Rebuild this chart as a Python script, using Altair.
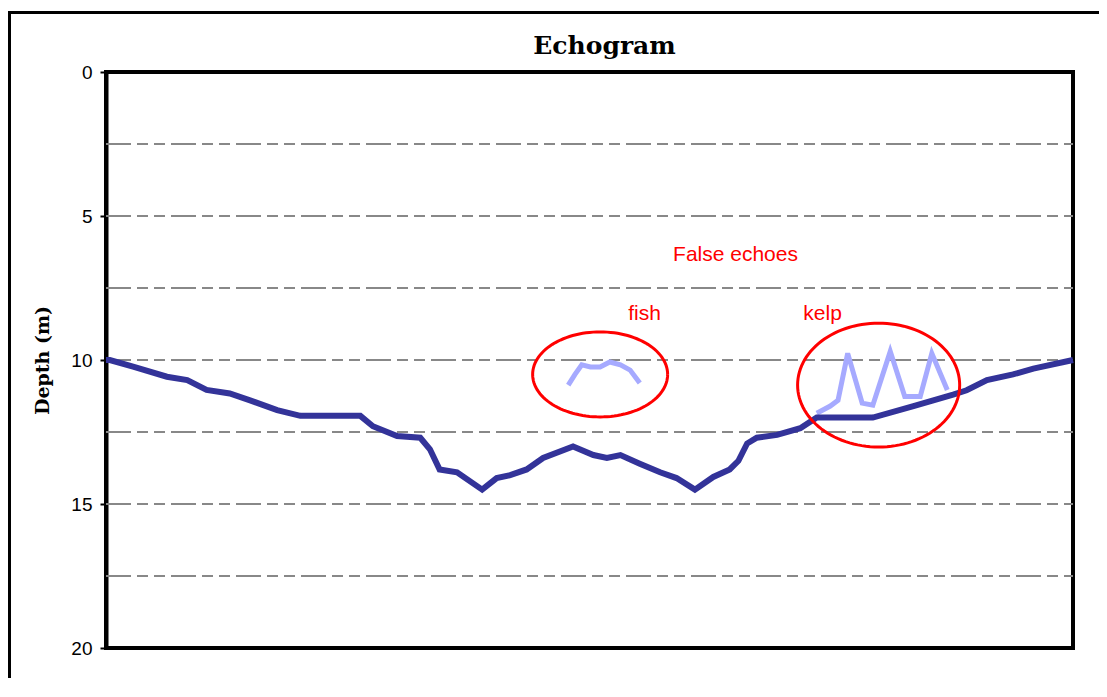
import altair as alt
import numpy as np
import pandas as pd

# ---- data ----
prof_x = [0, 0.4, 2.8, 6.3, 8.4, 10.4, 12.8, 14.9, 17.7, 20.1, 26.3, 27.6, 30.1, 32.5,
          33.5, 34.5, 36.3, 38.9, 40.4, 41.8, 43.5, 45.2, 48.3, 50.4, 51.8, 53.2, 55.2,
          57.3, 59.0, 60.9, 62.8, 64.5, 65.4, 66.3, 67.3, 69.4, 71.8, 73.5, 79.3, 83.5,
          87.6, 89.0, 91.1, 93.8, 95.9, 100]
prof_depth = [10.0, 10.0, 10.23, 10.58, 10.7, 11.04, 11.16, 11.4, 11.74, 11.94, 11.94, 12.3,
              12.64, 12.7, 13.1, 13.8, 13.9, 14.5, 14.1, 14.0, 13.8, 13.4, 13.0, 13.3, 13.4,
              13.3, 13.6, 13.9, 14.1, 14.5, 14.06, 13.8, 13.5, 12.9, 12.7, 12.6, 12.37, 12.0,
              12.0, 11.6, 11.2, 11.05, 10.7, 10.5, 10.3, 10.0]

fish_x = [47.8, 48.5, 49.2, 50.1, 51.1, 52.1, 53.2, 54.2, 55.2]
fish_depth = [10.87, 10.5, 10.17, 10.24, 10.24, 10.07, 10.17, 10.35, 10.8]

kelp_x = [73.5, 74.9, 75.7, 76.7, 78.2, 79.3, 81.1, 82.6, 84.2, 85.4, 87.0]
kelp_depth = [11.85, 11.6, 11.4, 9.77, 11.5, 11.57, 9.7, 11.27, 11.27, 9.77, 11.04]

grid_levels = [2.5, 5, 7.5, 10, 12.5, 15, 17.5]
depth_ticks = [0, 5, 10, 15, 20]

label_text = ["False echoes", "fish", "kelp"]
label_x = [65.1, 55.7, 74.1]
label_depth = [6.56, 8.61, 8.61]

ellipse_name = ["fish", "kelp"]
ellipse_cx = [51.1, 79.9]
ellipse_cdepth = [10.5, 10.87]
ellipse_rx = [6.98, 8.38]
ellipse_rdepth = [1.476, 2.15]

# ---- tables ----
prof_df = pd.DataFrame({"x": prof_x, "depth": prof_depth})
echo_df = pd.concat([
    pd.DataFrame({"x": fish_x, "depth": fish_depth, "s": "fish"}),
    pd.DataFrame({"x": kelp_x, "depth": kelp_depth, "s": "kelp"}),
])
grid_df = pd.DataFrame({"depth": grid_levels})
label_df = pd.DataFrame({"t": label_text, "x": label_x, "depth": label_depth})

t = np.linspace(0, 2 * np.pi, 121)
rows = []
for n, cx, cy, rx, ry in zip(ellipse_name, ellipse_cx, ellipse_cdepth, ellipse_rx, ellipse_rdepth):
    for i, a in enumerate(t):
        rows.append({"e": n, "i": i, "x": cx + rx * np.cos(a), "depth": cy + ry * np.sin(a)})
ell_df = pd.DataFrame(rows)

xscale = alt.Scale(domain=[0, 100], nice=False, zero=False)
yscale = alt.Scale(domain=[0, 20], reverse=True, nice=False, zero=False)

yaxis = alt.Axis(
    values=depth_ticks, grid=False,
    domainColor="black", domainWidth=4,
    tickColor="black", tickWidth=2, tickSize=6,
    labelFont="Liberation Sans", labelFontSize=19, labelColor="black", labelPadding=8,
    title="Depth (m)", titleFont="DejaVu Serif", titleFontWeight="bold", titleFontSize=19,
    titleColor="black", titleX=-54, titleY=288, titleAngle=-90, titleBaseline="bottom",
    titleAlign="center",
)


def X():
    return alt.X("x:Q", scale=xscale, axis=None)


def Y(field="depth:Q"):
    return alt.Y(field, scale=yscale, axis=yaxis)


grid = alt.Chart(grid_df).mark_rule(
    color="#888888", strokeWidth=2, strokeDash=[25, 6, 11, 6, 11, 6]
).encode(y=Y(), x=alt.value(0), x2=alt.value(967))

echoes = alt.Chart(echo_df).mark_line(color="#a6aaff", strokeWidth=5, strokeJoin="miter").encode(
    x=X(), y=Y(), detail="s:N"
)

profile = alt.Chart(prof_df).mark_line(color="#333399", strokeWidth=6).encode(
    x=X(), y=Y()
)

ellipses = alt.Chart(ell_df).mark_line(color="#ff0000", strokeWidth=3).encode(
    x=X(), y=Y(), detail="e:N", order="i:Q"
)

labels = alt.Chart(label_df).mark_text(
    color="#ff0000", font="Liberation Sans", fontSize=21, align="center", baseline="alphabetic"
).encode(x=X(), y=Y(), text="t:N")

frame = alt.Chart(pd.DataFrame({"a": [0]})).mark_rect(
    fillOpacity=0, stroke="black", strokeWidth=3
).encode(
    x=alt.value(-96.5), x2=alt.value(1010), y=alt.value(-59.5), y2=alt.value(630)
)

chart = alt.layer(grid, echoes, profile, ellipses, labels, frame).properties(
    width=967, height=576,
    title=alt.Title("Echogram", font="DejaVu Serif", fontSize=25, fontWeight="bold",
                    color="black", anchor="middle", frame="group", offset=-48, dx=15),
    autosize=alt.AutoSizeParams(type="none"),
    padding={"left": 98, "top": 64, "right": 26, "bottom": 30},
).configure_view(stroke="black", strokeWidth=4)

chart.save("out.html", embed_options={"renderer": "svg", "actions": False})
